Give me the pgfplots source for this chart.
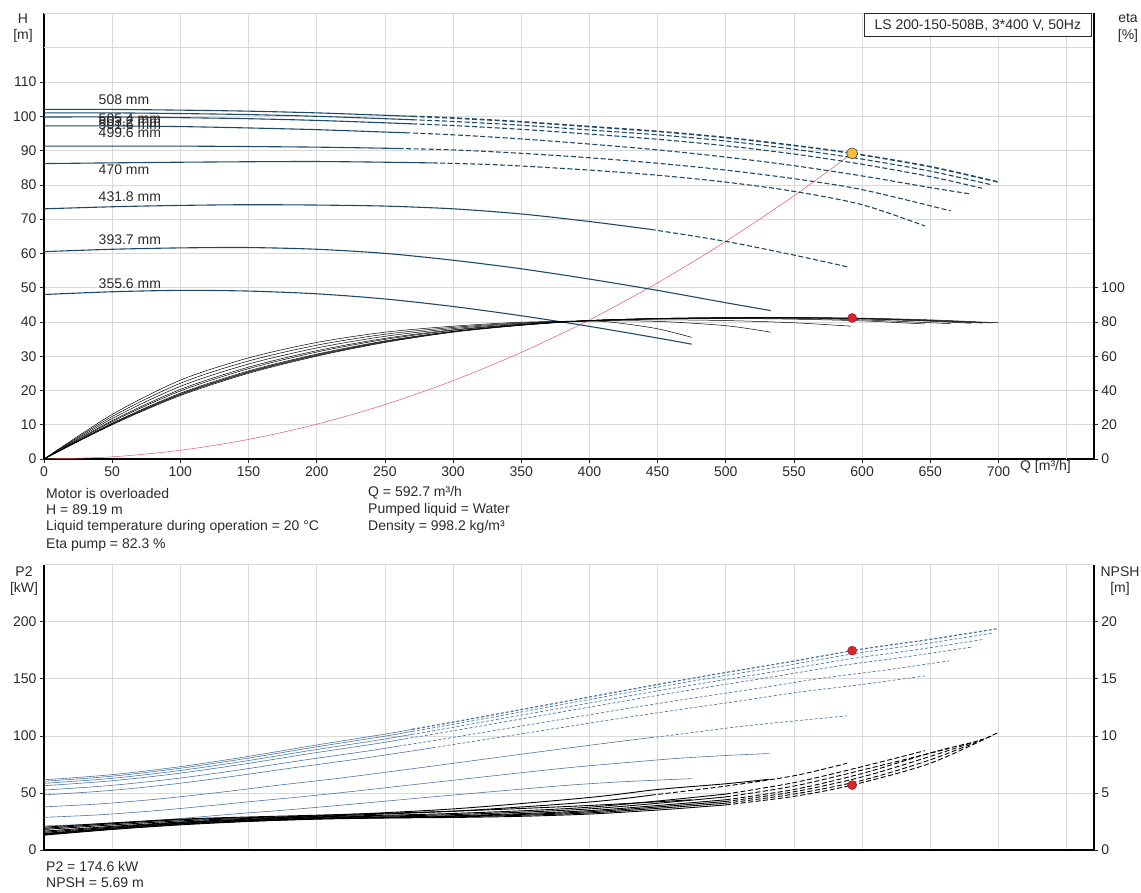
\documentclass[border=0pt]{standalone}
\usepackage{fontspec}
\setmainfont{Liberation Sans}
\usepackage{pgfplots}
\pgfplotsset{compat=1.18}
\definecolor{hcol}{HTML}{1E4A6A}
\definecolor{pcol}{HTML}{4A76A4}
\definecolor{gridc}{HTML}{D9D9D9}
\definecolor{txt}{HTML}{2A2A2A}
\definecolor{sysred}{HTML}{E8565A}
\definecolor{dotred}{HTML}{D7262B}
\definecolor{dotyel}{HTML}{F5BE3A}
\newcommand\tf{\fontsize{14}{16.5}\selectfont}
\pgfplotsset{
 base/.style={scale only axis, width=1050pt, xmin=0, xmax=770,
   tick align=outside, major tick length=4pt,
   tick style={draw=txt, line width=0.6pt},
   ticklabel style={font=\tf, text=txt},
   /pgf/number format/assume math mode=true,
   axis line style={-, draw=black, line width=1.3pt}},
 hsol/.style={hcol, line width=1.1pt, smooth},
 hdash/.style={hcol, line width=1.1pt, smooth, dash pattern=on 5pt off 2.5pt},
 esol/.style={black, line width=0.5pt, smooth},
 psol/.style={pcol, line width=0.6pt, smooth},
 pdash/.style={pcol, line width=0.7pt, smooth, dash pattern=on 3pt off 2pt},
 nsol/.style={black, line width=0.9pt, smooth},
 ndash/.style={black, line width=0.9pt, smooth, dash pattern=on 5pt off 2.5pt},
}
\begin{document}
\begin{tikzpicture}
\useasboundingbox (0,0) rectangle (1141pt,892pt);
% ================= TOP: H =================
\begin{axis}[base, at={(44pt,433pt)}, anchor=south west, height=445.5pt,
  ymin=0, ymax=130, ytick={0,10,...,110},
  extra y ticks={120,130}, extra y tick labels={}, extra y tick style={major tick length=0pt, grid=major},
  xtick={0,50,...,700}, extra x ticks={750}, extra x tick labels={}, extra x tick style={major tick length=0pt, grid=major},
  grid=major, major grid style={gridc, line width=0.6pt},
  axis x line*=bottom, axis y line*=left]
% system curve
\addplot[sysred, line width=0.5pt, smooth] coordinates {(0,0)(50,0.63)(100,2.54)(150,5.71)(200,10.15)(250,15.87)(300,22.85)(350,31.1)(400,40.6)(450,51.4)(500,63.5)(550,76.8)(592.7,89.19)};
% H curves
\addplot[hsol] coordinates {(0,102)(50,102)(100,101.8)(150,101.5)(200,101)(250,100.3)(270,100)};
\addplot[hdash, line width=1.6pt] coordinates {(270,100)(300,99.5)(350,98.4)(400,97)(450,95.6)(500,93.8)(550,91.5)(592.7,89.2)(650,85.3)(700,80.8)};
\addplot[hsol] coordinates {(0,101)(50,101)(100,100.8)(150,100.5)(200,100)(250,99.3)(270,99)};
\addplot[hdash] coordinates {(270,99)(300,98.5)(350,97.4)(400,96)(450,94.6)(500,92.8)(550,90.4)(600,87.5)(650,84)(695,80)};
\addplot[hsol] coordinates {(0,99.8)(50,99.8)(100,99.6)(150,99.3)(200,98.8)(250,98.1)(270,97.8)};
\addplot[hdash] coordinates {(270,97.8)(300,97.3)(350,96.2)(400,94.8)(450,93.3)(500,91.4)(550,89)(600,86)(650,82.4)(688,79)};
\addplot[hsol] coordinates {(0,97.2)(50,97.2)(100,97)(150,96.6)(200,96.1)(250,95.4)(265,95.2)};
\addplot[hdash] coordinates {(265,95.2)(300,94.6)(350,93.4)(400,91.9)(450,90.2)(500,88.1)(550,85.6)(600,82.6)(650,79.2)(680,77.3)};
\addplot[hsol] coordinates {(0,91.3)(100,91.3)(200,91)(260,90.6)};
\addplot[hdash] coordinates {(260,90.6)(300,90.2)(350,89.2)(400,87.9)(450,86.3)(500,84.3)(550,81.8)(600,78.6)(665,72.4)};
\addplot[hsol] coordinates {(0,86.2)(100,86.6)(200,86.8)(285,86.4)};
\addplot[hdash] coordinates {(285,86.4)(335,85.8)(400,84.3)(450,82.8)(500,80.8)(550,78.1)(600,74.2)(646,68)};
\addplot[hsol] coordinates {(0,73)(50,73.6)(100,74)(150,74.2)(200,74.1)(250,73.8)(300,73)(350,71.5)(400,69.3)(445,67)};
\addplot[hdash] coordinates {(445,67)(500,63.5)(550,59.5)(590,56)};
\addplot[hsol] coordinates {(0,60.5)(50,61.2)(100,61.6)(150,61.7)(200,61.2)(250,60)(300,58)(350,55.5)(400,52.5)(450,49.2)(500,45.6)(533,43.3)};
\addplot[hsol] coordinates {(0,48)(50,48.8)(100,49.2)(150,49)(200,48.2)(250,46.7)(300,44.5)(350,41.8)(400,38.7)(450,35.3)(475,33.5)};
% duty point
\addplot[only marks, mark=*, mark size=5.5pt, mark options={fill=dotyel, draw=black!70, line width=0.6pt}] coordinates {(592.7,89.19)};
% curve labels
\begin{scope}[every node/.style={anchor=west, font=\tf, text=txt, inner sep=0pt}]
\node at (axis cs:40,104.8) {508 mm};
\node at (axis cs:40,99.3) {505.4 mm};
\node at (axis cs:40,98.4) {503.2 mm};
\node at (axis cs:40,97.6) {501.6 mm};
\node at (axis cs:40,95.1) {499.6 mm};
\node at (axis cs:40,84.3) {470 mm};
\node at (axis cs:40,76.5) {431.8 mm};
\node at (axis cs:40,63.9) {393.7 mm};
\node at (axis cs:40,51.3) {355.6 mm};
\end{scope}
\end{axis}
% ================= TOP: eta =================
\begin{axis}[base, at={(44pt,433pt)}, anchor=south west, height=445.5pt,
  ymin=0, ymax=260, ytick={0,20,...,100},
  axis x line=none, axis y line*=right]
\addplot[esol] coordinates {(0,0)(50,20)(100,37)(150,50)(200,60)(250,68)(300,74)(350,78)(400,80.8)(450,82)(500,82.5)(550,82.6)(600,82.2)(650,81.2)(700,79.5)};
\addplot[esol] coordinates {(0,0)(50,20.3)(100,37.5)(150,50.5)(200,60.4)(250,68.3)(300,74.2)(350,78.1)(400,80.8)(450,82)(500,82.5)(550,82.5)(600,82)(650,80.9)(695,79.4)};
\addplot[esol] coordinates {(0,0)(50,20.6)(100,37.9)(150,50.9)(200,60.8)(250,68.6)(300,74.4)(350,78.2)(400,80.8)(450,82)(500,82.4)(550,82.4)(600,81.9)(650,80.7)(688,79.3)};
\addplot[esol] coordinates {(0,0)(50,20.9)(100,38.4)(150,51.4)(200,61.2)(250,68.9)(300,74.5)(350,78.3)(400,80.8)(450,81.9)(500,82.3)(550,82.3)(600,81.7)(650,80.4)(680,79.2)};
\addplot[esol] coordinates {(0,0)(50,21.8)(100,39.7)(150,52.7)(200,62.4)(250,69.8)(300,75.1)(350,78.5)(400,80.7)(450,81.8)(500,82.1)(550,82)(600,81.2)(665,79)};
\addplot[esol] coordinates {(0,0)(50,22.4)(100,40.6)(150,53.6)(200,63.2)(250,70.4)(300,75.4)(350,78.7)(400,80.7)(450,81.7)(500,82)(550,81.6)(600,80.6)(646,78.8)};
\addplot[esol] coordinates {(0,0)(50,23.6)(100,42.4)(150,55.4)(200,64.8)(250,71.6)(300,76.1)(350,79.1)(400,80.6)(450,81.2)(500,80.8)(550,79.5)(592,77.5)};
\addplot[esol] coordinates {(0,0)(50,24.8)(100,44.2)(150,57.2)(200,66.4)(250,72.8)(300,76.8)(350,79.4)(400,80.6)(450,80.3)(500,77.8)(533,74)};
\addplot[esol] coordinates {(0,0)(50,26)(100,46)(150,59)(200,68)(250,74)(300,77.5)(350,79.8)(400,80.5)(420,79.5)(450,76)(475,71)};
\addplot[only marks, mark=*, mark size=4.5pt, mark options={fill=dotred, draw=dotred!70!black, line width=0.5pt}] coordinates {(592.7,82.3)};
\end{axis}
% ================= BOTTOM: P2 =================
\begin{axis}[base, at={(44pt,42pt)}, anchor=south west, height=285.4pt,
  ymin=0, ymax=250, ytick={0,50,...,200},
  extra y ticks={250}, extra y tick labels={}, extra y tick style={major tick length=0pt, grid=major},
  xtick={0,50,...,750}, xticklabels={}, xtick style={draw=none},
  grid=major, major grid style={gridc, line width=0.6pt},
  axis x line*=bottom, axis y line*=left]
\addplot[psol] coordinates {(0,61.5)(50,66)(100,73)(150,82)(200,92)(250,101.5)(270,105.7)};
\addplot[pdash, line width=1.2pt] coordinates {(270,105.7)(300,112)(350,123)(400,134)(450,145)(500,155.5)(550,165.5)(600,176)(650,184.5)(700,194)};
\addplot[psol] coordinates {(0,60.2)(49.6,64.6)(99.3,71.5)(148.9,80.3)(198.6,90.1)(248.3,99.4)(270,103.9)};
\addplot[pdash] coordinates {(270,103.9)(297.9,109.6)(347.6,120.4)(397.2,131.2)(446.9,142)(496.5,152.2)(546.2,162)(595.8,172.3)(645.5,180.6)(695,189.9)};
\addplot[psol] coordinates {(0,58.4)(49.2,62.7)(98.3,69.4)(147.5,77.9)(196.6,87.4)(245.8,96.4)(270,101.3)};
\addplot[pdash] coordinates {(270,101.3)(294.9,106.4)(344.1,116.9)(393.2,127.3)(442.4,137.8)(491.5,147.7)(540.7,157.2)(589.8,167.2)(639,175.3)(688,184.3)};
\addplot[psol] coordinates {(0,56.3)(48.6,60.5)(97.1,66.9)(145.7,75.1)(194.2,84.3)(242.8,93)(265,97.4)};
\addplot[pdash] coordinates {(265,97.4)(291.3,102.6)(339.9,112.7)(388.4,122.7)(437,132.8)(485.5,142.4)(534.1,151.6)(582.6,161.2)(631.2,169)(680,177.7)};
\addplot[psol] coordinates {(0,52.5)(47.5,56.4)(94.9,62.3)(142.4,70)(189.8,78.6)(237.3,86.7)(260,91)};
\addplot[pdash] coordinates {(260,91)(284.7,95.6)(332.2,105)(379.6,114.4)(427.1,123.8)(474.5,132.8)(522,141.3)(569.4,150.3)(616.9,157.6)(664,165.7)};
\addplot[psol] coordinates {(0,48.3)(46.2,51.9)(92.3,57.4)(138.5,64.5)(184.6,72.3)(230.8,79.8)(276.9,88)(285,89.5)};
\addplot[pdash] coordinates {(285,89.5)(323.1,96.7)(369.2,105.3)(415.4,114)(461.5,122.2)(507.7,130.1)(553.8,138.3)(600,145)(646,152.5)};
\addplot[psol] coordinates {(0,37.8)(42.5,40.5)(85,44.8)(127.5,50.3)(170,56.5)(212.5,62.3)(255,68.8)(297.5,75.5)(340,82.3)(382.5,89)(425,95.5)(445,98.4)};
\addplot[pdash] coordinates {(445,98.4)(467.5,101.6)(510,108.1)(552.5,113.3)(589,117.5)};
\addplot[psol] coordinates {(0,28.6)(38.8,30.7)(77.5,34)(116.3,38.2)(155,42.8)(193.8,47.2)(232.5,52.1)(271.3,57.3)(310,62.4)(348.8,67.5)(387.5,72.4)(426.3,76.5)(465,80.3)(503.8,83)(532,84.5)};
\addplot[psol] coordinates {(0,21.1)(35,22.6)(70,25)(105,28.1)(140,31.6)(175,34.8)(210,38.4)(245,42.2)(280,46)(315,49.7)(350,53.3)(385,56.8)(420,59.5)(455,61.5)(475,62.5)};
\addplot[only marks, mark=*, mark size=4.5pt, mark options={fill=dotred, draw=dotred!70!black, line width=0.5pt}] coordinates {(592.7,174.6)};
\end{axis}
% ================= BOTTOM: NPSH =================
\begin{axis}[base, at={(44pt,42pt)}, anchor=south west, height=285.4pt,
  ymin=0, ymax=25, ytick={0,5,...,20},
  axis x line=none, axis y line*=right]
\addplot[nsol] coordinates {(0,1.3)(50,1.8)(100,2.2)(150,2.5)(200,2.7)(250,2.8)(300,2.85)(350,2.95)(400,3.15)(450,3.5)(500,3.95)};
\addplot[ndash] coordinates {(500,3.95)(550,4.7)(592.7,5.69)(650,7.6)(700,10.3)};
\addplot[nsol] coordinates {(0,1.35)(100,2.25)(200,2.72)(300,2.9)(400,3.25)(500,4.1)};
\addplot[ndash] coordinates {(500,4.1)(550,4.9)(600,6.1)(650,7.9)(695,10)};
\addplot[nsol] coordinates {(0,1.4)(100,2.3)(200,2.75)(300,2.95)(400,3.35)(500,4.25)};
\addplot[ndash] coordinates {(500,4.25)(550,5.1)(600,6.4)(650,8.2)(688,9.7)};
\addplot[nsol] coordinates {(0,1.45)(100,2.35)(200,2.8)(300,3)(400,3.45)(500,4.4)};
\addplot[ndash] coordinates {(500,4.4)(550,5.3)(600,6.7)(650,8.5)(680,9.4)};
\addplot[nsol] coordinates {(0,1.55)(100,2.4)(200,2.85)(300,3.1)(400,3.6)(500,4.65)};
\addplot[ndash] coordinates {(500,4.65)(550,5.6)(600,7)(664,8.9)};
\addplot[nsol] coordinates {(0,1.65)(100,2.45)(200,2.9)(300,3.2)(400,3.75)(500,4.9)};
\addplot[ndash] coordinates {(500,4.9)(550,5.9)(600,7.3)(646,8.7)};
\addplot[nsol] coordinates {(0,1.8)(100,2.55)(200,2.95)(300,3.4)(400,4.2)(445,4.8)};
\addplot[ndash] coordinates {(445,4.8)(500,5.6)(550,6.5)(589,7.6)};
\addplot[nsol] coordinates {(0,1.9)(100,2.65)(200,3)(300,3.6)(400,4.6)(450,5.3)(500,5.8)(532,6.2)};
\addplot[nsol] coordinates {(0,2)(100,2.7)(200,3.05)(300,3.4)(400,3.9)(475,4.4)};
\addplot[only marks, mark=*, mark size=4.5pt, mark options={fill=dotred, draw=dotred!70!black, line width=0.5pt}] coordinates {(592.7,5.69)};
\end{axis}
% ================= texts =================
\begin{scope}[every node/.style={font=\tf, text=txt, inner sep=0pt}]
\node[align=center] at (23pt,864pt) {H\\{[m]}};
\node[align=center] at (1128pt,864pt) {eta\\{[\%]}};
\node[align=center] at (24pt,311pt) {P2\\{[kW]}};
\node[align=center] at (1120pt,311pt) {NPSH\\{[m]}};
\node[anchor=west] at (1020pt,425pt) {Q [m³/h]};
\node[draw=txt, fill=white, line width=0.7pt, minimum width=227pt, minimum height=23pt, anchor=north west] at (864pt,878.5pt) {LS 200-150-508B, 3*400 V, 50Hz};
\node[anchor=west] at (46pt,399pt) {Motor is overloaded};
\node[anchor=west] at (46pt,382pt) {H = 89.19 m};
\node[anchor=west] at (46pt,365pt) {Liquid temperature during operation = 20 °C};
\node[anchor=west] at (46pt,347pt) {Eta pump = 82.3 \%};
\node[anchor=west] at (368pt,399pt) {Q = 592.7 m³/h};
\node[anchor=west] at (368pt,382pt) {Pumped liquid = Water};
\node[anchor=west] at (368pt,365pt) {Density = 998.2 kg/m³};
\node[anchor=west] at (46pt,26pt) {P2 = 174.6 kW};
\node[anchor=west] at (46pt,9pt) {NPSH = 5.69 m};
\end{scope}
\end{tikzpicture}
\end{document}
